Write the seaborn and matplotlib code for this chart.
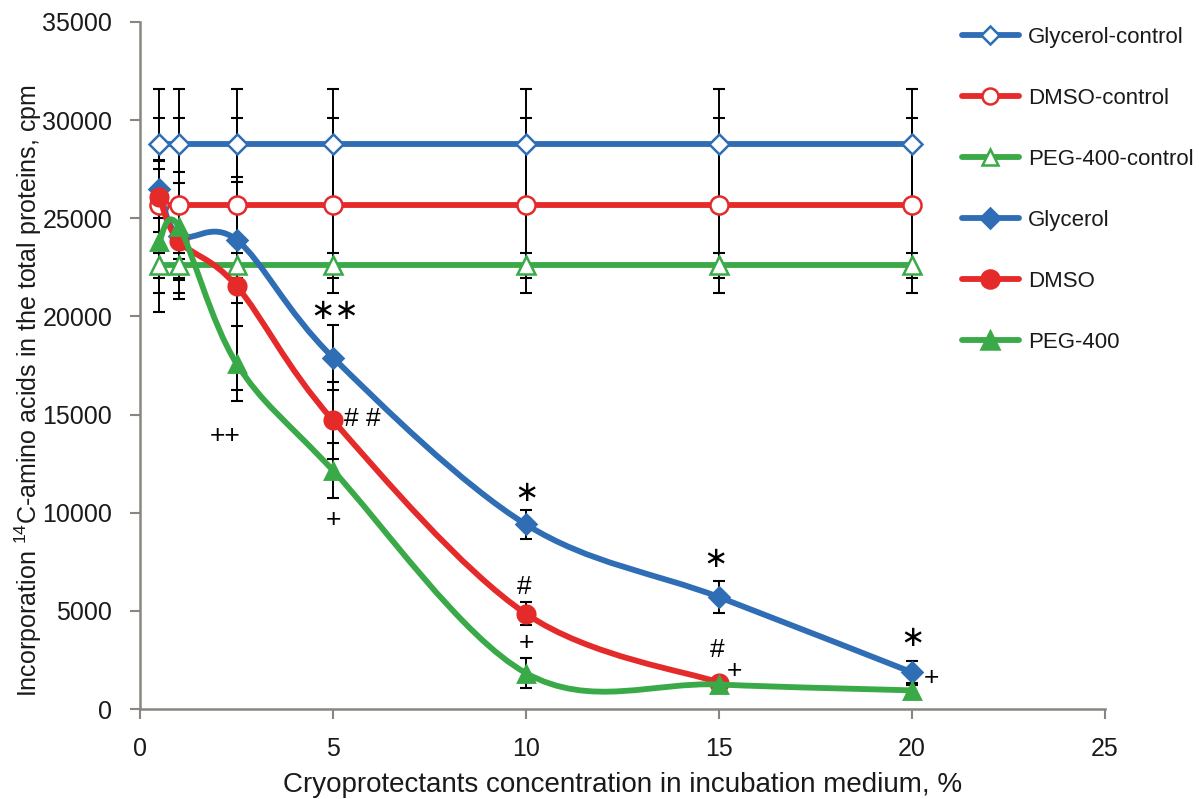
import numpy as np
import seaborn as sns
import matplotlib.pyplot as plt
from matplotlib.path import Path
from matplotlib.patches import PathPatch
from matplotlib.lines import Line2D

# concentrations, %
conc = [0.5, 1, 2.5, 5, 10, 15, 20]
dmso_conc = [0.5, 1, 2.5, 5, 10, 15]

# controls (flat) and their errors
glycerol_ctrl = [28800, 28800, 28800, 28800, 28800, 28800, 28800]
glycerol_ctrl_err = [2800, 2800, 2800, 2800, 2800, 2800, 2800]
dmso_ctrl = [25650, 25650, 25650, 25650, 25650, 25650, 25650]
dmso_ctrl_err = [4450, 4450, 4450, 4450, 4450, 4450, 4450]
peg_ctrl = [22600, 22600, 22600, 22600, 22600, 22600, 22600]
peg_ctrl_err = [650, 650, 650, 650, 650, 650, 650]

# treatments
glycerol = [26500, 24100, 23900, 17900, 9400, 5700, 1870]
glycerol_err = [1480, 1200, 3200, 1650, 740, 800, 560]
dmso = [26100, 23850, 21550, 14700, 4850, 1350]
dmso_err = [1800, 2950, 5300, 1950, 590, 300]
peg = [23850, 24600, 17600, 12150, 1830, 1250, 950]
peg_err = [3650, 2750, 1900, 1400, 760, 250, 250]

labels = ["Glycerol-control", "DMSO-control", "PEG-400-control",
          "Glycerol", "DMSO", "PEG-400"]

# significance marks: (text, x, y)
stars = [("\u2217\u2217", 5.05, 20250), ("\u2217", 10.0, 11000),
         ("\u2217", 14.9, 7650), ("\u2217", 20.0, 3600)]
marks = [("# #", 5.75, 14750), ("+", 5.0, 9650), ("++", 2.2, 13900),
         ("#", 9.95, 6200), ("+", 10.0, 3380), ("#", 14.95, 3000),
         ("+", 15.4, 1950), ("+", 20.5, 1600)]

blue = "#2f6db5"
red = "#e52a2a"
green = "#3aaa48"


def smooth_path(x, y):
    # excel-like smoothed line (catmull-rom style bezier)
    pts = np.column_stack([x, y]).astype(float)
    n = len(pts)
    verts = [pts[0]]
    codes = [Path.MOVETO]
    for i in range(n - 1):
        p0 = pts[max(i - 1, 0)]
        p1 = pts[i]
        p2 = pts[i + 1]
        p3 = pts[min(i + 2, n - 1)]
        verts += [p1 + (p2 - p0) / 6, p2 - (p3 - p1) / 6, p2]
        codes += [Path.CURVE4] * 3
    return Path(verts, codes)


sns.set_style("white")
plt.rcParams['font.family'] = ['Liberation Sans', 'DejaVu Sans']
plt.rcParams['mathtext.default'] = 'regular'

fig = plt.figure(figsize=(11.99, 7.99), dpi=100)
ax = fig.add_axes([0.1168, 0.1126, 0.8048, 0.86])

lw = 4.2
hollow_sizes = {"D": 10.5, "o": 13, "^": 13.5}
filled_sizes = {"D": 12, "o": 14.5, "^": 15}
series = [
    (conc, glycerol_ctrl, glycerol_ctrl_err, blue, "D", False),
    (conc, dmso_ctrl, dmso_ctrl_err, red, "o", False),
    (conc, peg_ctrl, peg_ctrl_err, green, "^", False),
    (conc, glycerol, glycerol_err, blue, "D", True),
    (dmso_conc, dmso, dmso_err, red, "o", True),
    (conc, peg, peg_err, green, "^", True),
]

handles = []
for k, (xs, vals, errs, col, mk, filled) in enumerate(series):
    ax.errorbar(xs, vals, yerr=errs, fmt="none", ecolor="black",
                elinewidth=1.4, capsize=4.5, capthick=1.5, zorder=2)
    if filled:
        size = filled_sizes[mk]
        ax.add_patch(PathPatch(smooth_path(xs, vals), fill=False,
                               edgecolor=col, lw=lw, zorder=3 + k))
        sns.scatterplot(x=xs, y=vals, marker=mk, s=size ** 2, color=col,
                        edgecolor=col, linewidth=0, ax=ax, zorder=3.5 + k)
    else:
        size = hollow_sizes[mk]
        sns.lineplot(x=xs, y=vals, color=col, lw=lw, marker=mk,
                     markersize=size, markerfacecolor="white",
                     markeredgecolor=col, markeredgewidth=1.8, ax=ax,
                     zorder=3 + k)
    handles.append(Line2D([], [], color=col, lw=lw, marker=mk, markersize=size - 1.5,
                          markerfacecolor=col if filled else "white",
                          markeredgecolor=col, markeredgewidth=1.8))

for txt, x, y in stars:
    ax.text(x, y, txt, ha="center", va="center", fontsize=21, color="black",
            family=["DejaVu Sans"], zorder=10)
for txt, x, y in marks:
    ax.text(x, y, txt, ha="center", va="center", fontsize=19, color="black",
            zorder=10)

ax.set_xlim(0, 25)
ax.set_ylim(0, 35000)
ax.set_xticks([0, 5, 10, 15, 20, 25])
ax.set_yticks(range(0, 35001, 5000))
ax.tick_params(axis="both", direction="out", length=7, width=1.5,
               color="#8a8580", pad=13, labelsize=18, labelcolor="#1a1a1a",
               bottom=True, left=True)
sns.despine(ax=ax)
for side in ["left", "bottom"]:
    ax.spines[side].set_color("#8a8580")
    ax.spines[side].set_linewidth(1.8)

ax.set_xlabel("Cryoprotectants concentration in incubation medium, %",
              fontsize=20, labelpad=8, color="#1a1a1a")
ax.set_ylabel("Incorporation $^{14}$C-amino acids in the total proteins, cpm",
              fontsize=18, color="#1a1a1a")
ax.yaxis.set_label_coords(-0.1, 0.464)

fig.legend(handles, labels, loc="upper left", bbox_to_anchor=(0.802, 0.966),
           frameon=False, fontsize=16, labelspacing=1.8, handlelength=2.6,
           handletextpad=0.4, borderpad=0, borderaxespad=0,
           labelcolor="#1a1a1a")

plt.savefig("out.png", dpi=100)
